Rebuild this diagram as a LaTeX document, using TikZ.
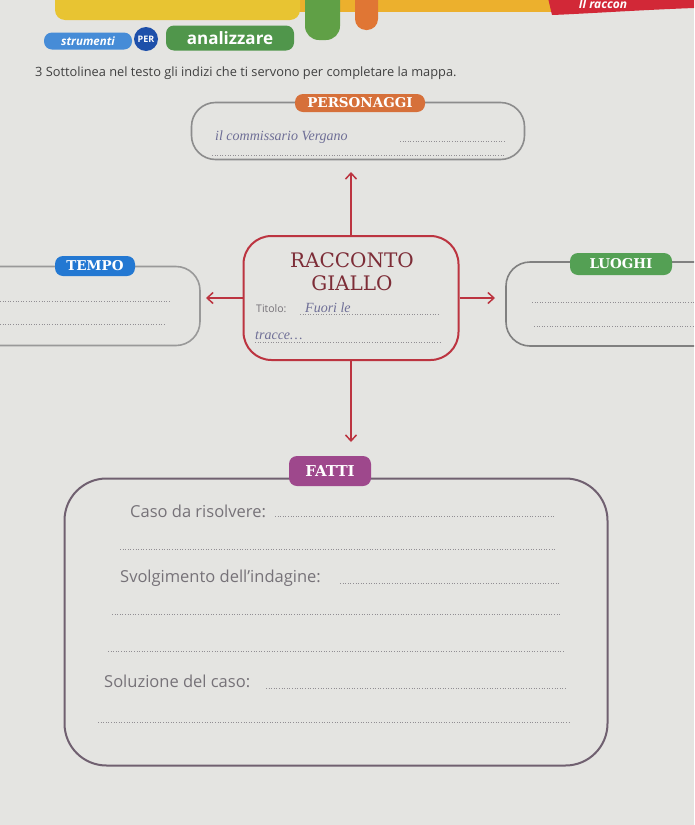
\documentclass[tikz,border=0pt]{standalone}
\usepackage{fontspec}
\setmainfont{Liberation Serif}
\setsansfont{Open Sans}
\newfontfamily\slabfont{DejaVu Serif}
\usetikzlibrary{arrows.meta}

\definecolor{pagegray}{RGB}{228,228,225}
\definecolor{bandyellow}{RGB}{232,196,50}
\definecolor{bandgold}{RGB}{236,176,45}
\definecolor{dripgreen}{RGB}{96,160,70}
\definecolor{driporange}{RGB}{224,118,52}
\definecolor{tagred}{RGB}{210,40,55}
\definecolor{tagblue}{RGB}{70,140,215}
\definecolor{tagnavy}{RGB}{30,80,170}
\definecolor{taggreen}{RGB}{80,150,75}
\definecolor{persorange}{RGB}{214,112,58}
\definecolor{tempoblue}{RGB}{35,120,210}
\definecolor{luoghigreen}{RGB}{84,160,84}
\definecolor{fattipurple}{RGB}{158,72,140}
\definecolor{racred}{RGB}{188,52,64}
\definecolor{racink}{RGB}{125,45,55}
\definecolor{formgray}{RGB}{118,114,120}
\definecolor{inkblue}{RGB}{110,110,150}
\definecolor{fattiline}{RGB}{112,96,112}

\begin{document}
\begin{tikzpicture}[x=1pt,y=-1pt,
    mapbox/.style={draw, rounded corners=24pt, line width=1.6pt, inner sep=0pt},
    headpill/.style={rounded corners=8pt, text=white, inner sep=0pt,
        font=\slabfont\bfseries\fontsize{13.5}{14}\selectfont},
    tagpill/.style={rounded corners=8pt, text=white, inner sep=0pt},
    writeline/.style={dotted, formgray!80, line width=0.6pt},
    redarrow/.style={draw=racred, line width=1.5pt, -{Straight Barb[length=6pt,width=11pt]}},
    hand/.style={anchor=west, inner sep=0pt, text=inkblue, font=\itshape\fontsize{14}{14}\selectfont},
    formtext/.style={anchor=west, inner sep=0pt, text=formgray, font=\sffamily\fontsize{16.5}{17}\selectfont}]

    \useasboundingbox (0,0) rectangle (694,825);
    \clip (0,0) rectangle (694,825);
    \fill[pagegray] (0,0) rectangle (694,825);

    %Shape: page heading band
    \fill[bandgold] (270,-5) rectangle (560,12);
    \fill[bandyellow, rounded corners=10pt] (55,-20) rectangle (300,20);
    \fill[dripgreen, rounded corners=14pt] (305,-30) rectangle (340,40);
    \fill[driporange, rounded corners=11pt] (355,-30) rectangle (378,30);
    \fill[tagred] (548,-2) -- (694,-2) -- (694,8) .. controls (640,10) and (580,14) .. (552,15) -- cycle;
    \node[text=white, font=\sffamily\bfseries\itshape\fontsize{12}{12}\selectfont, inner sep=0pt] (tagtitle) at (603,4) {Il raccon};

    % Tag row
    \node[tagpill, fill=tagblue, minimum width=88pt, minimum height=17pt,
        font=\sffamily\bfseries\itshape\fontsize{11.5}{11}\selectfont] (strumenti) at (88,41) {strumenti};
    \node[circle, fill=tagnavy, text=white, minimum size=24pt, inner sep=0pt,
        font=\sffamily\bfseries\fontsize{9}{9}\selectfont] (per) at (146,39) {PER};
    \node[tagpill, fill=taggreen, minimum width=128pt, minimum height=25pt,
        font=\sffamily\bfseries\fontsize{17}{17}\selectfont] (analizzare) at (230,38) {analizzare};

    % Text Node
    \node[anchor=west, inner sep=0pt, text=black!75, font=\sffamily\fontsize{12.8}{13}\selectfont] (consegna) at (35,73)
        {3 Sottolinea nel testo gli indizi che ti servono per completare la mappa.};

    %Shape: PERSONAGGI
    \node[mapbox, draw=black!45, minimum width=333pt, minimum height=57pt] (personaggi) at (358,131) {};
    \node[headpill, fill=persorange, minimum width=130pt, minimum height=18pt] (personaggi label) at (360,103) {PERSONAGGI};
    \node[hand] (personaggi hand) at (215,137) {il commissario Vergano};
    \draw[writeline] (400,141) -- (505,141);
    \draw[writeline] (212,155) -- (505,155);

    %Shape: RACCONTO GIALLO
    \node[mapbox, draw=racred, line width=2pt, rounded corners=28pt, minimum width=215pt, minimum height=124pt] (racconto) at (351,298) {};
    \node[text=racink, font=\slabfont\fontsize{20}{20}\selectfont, inner sep=0pt, align=center] (racconto title) at (352,272)
        {RACCONTO\\[3pt]GIALLO};
    \node[anchor=west, inner sep=0pt, text=formgray, font=\sffamily\fontsize{10.5}{10}\selectfont] (titolo) at (256,309) {Titolo:};
    \node[hand] (titolo hand) at (305,308) {Fuori le};
    \draw[writeline] (300,314) -- (440,314);
    \node[hand] (titolo hand2) at (255,336) {tracce\dots};
    \draw[writeline] (255,342) -- (440,342);

    %Shape: TEMPO
    \node[mapbox, draw=black!40, minimum width=240pt, minimum height=79pt] (tempo) at (80,306) {};
    \node[headpill, fill=tempoblue, minimum width=80pt, minimum height=20pt] (tempo label) at (95,266) {TEMPO};
    \draw[writeline] (0,301) -- (170,301);
    \draw[writeline] (0,324) -- (166,324);

    %Shape: LUOGHI
    \node[mapbox, draw=black!50, minimum width=234pt, minimum height=84pt] (luoghi) at (623,304) {};
    \node[headpill, fill=luoghigreen, minimum width=102pt, minimum height=22pt] (luoghi label) at (621,264) {LUOGHI};
    \draw[writeline] (532,302) -- (694,302);
    \draw[writeline] (534,326) -- (694,326);

    %Shape: FATTI
    \node[mapbox, draw=fattiline, line width=2pt, rounded corners=42pt, minimum width=543pt, minimum height=287pt] (fatti) at (336,622) {};
    \node[headpill, fill=fattipurple, minimum width=82pt, minimum height=30pt,
        font=\slabfont\bfseries\fontsize{15}{15}\selectfont] (fatti label) at (330,471) {FATTI};
    \node[formtext] (caso) at (130,511) {Caso da risolvere:};
    \draw[writeline] (275,516) -- (555,516);
    \draw[writeline] (120,549) -- (555,549);
    \node[formtext] (svolgimento) at (120,578) {Svolgimento dell'indagine:};
    \draw[writeline] (340,583) -- (560,583);
    \draw[writeline] (112,614) -- (560,614);
    \draw[writeline] (108,651) -- (565,651);
    \node[formtext] (soluzione) at (104,681) {Soluzione del caso:};
    \draw[writeline] (266,688) -- (566,688);
    \draw[writeline] (98,722) -- (570,722);

    % Connectors
    \coordinate (up tip) at (351,172);
    \coordinate (left tip) at (206,298);
    \coordinate (right tip) at (495,298);
    \coordinate (down tip) at (351,442);
    \draw[redarrow] (racconto.north) -- (up tip);
    \draw[redarrow] (racconto.west) -- (left tip);
    \draw[redarrow] (racconto.east) -- (right tip);
    \draw[redarrow] (racconto.south) -- (down tip);
\end{tikzpicture}
\end{document}
